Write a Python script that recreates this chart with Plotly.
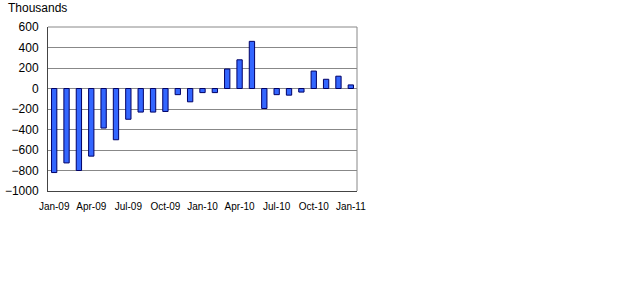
import plotly.graph_objects as go

months = ["Jan-09","Feb-09","Mar-09","Apr-09","May-09","Jun-09","Jul-09","Aug-09","Sep-09",
          "Oct-09","Nov-09","Dec-09","Jan-10","Feb-10","Mar-10","Apr-10","May-10","Jun-10",
          "Jul-10","Aug-10","Sep-10","Oct-10","Nov-10","Dec-10","Jan-11"]
values = [-820, -726, -800, -660, -386, -500, -300, -230, -230, -224, -60, -130,
          -40, -40, 190, 280, 460, -195, -60, -65, -35, 170, 90, 120, 35]
tick_labels = ["Jan-09","Apr-09","Jul-09","Oct-09","Jan-10","Apr-10","Jul-10","Oct-10","Jan-11"]
y_ticks = [600, 400, 200, 0, -200, -400, -600, -800, -1000]

fig = go.Figure(go.Bar(
    x=months, y=values,
    marker=dict(color="#3366FF", line=dict(color="#000066", width=1)),
))

W, H = 640, 308
L, T, R, B = 47.7, 27.3, 356.7, 191.3

fig.update_layout(
    width=W, height=H,
    margin=dict(l=L, r=W - R, t=T, b=H - B, pad=0, autoexpand=False),
    paper_bgcolor="white", plot_bgcolor="white",
    bargap=0.57,
    showlegend=False,
    font=dict(family="Liberation Sans, Arial, sans-serif", size=12, color="#000000"),
    xaxis=dict(
        type="category", tickmode="array", tickvals=tick_labels, ticktext=tick_labels,
        tickfont=dict(size=10), showgrid=False, showline=True, linecolor="#444444",
        linewidth=1, mirror=False, ticks="", ticklabelstandoff=6, automargin=False,
    ),
    yaxis=dict(
        range=[-1000, 600], tickmode="array", tickvals=y_ticks,
        showgrid=True, gridcolor="#888888", gridwidth=1,
        zeroline=True, zerolinecolor="#888888", zerolinewidth=1,
        showline=True, linecolor="#444444", linewidth=1, ticks="",
        ticklabelstandoff=6, tickfont=dict(size=12), automargin=False,
    ),
    shapes=[
        dict(type="line", xref="paper", yref="paper", x0=0, x1=1, y0=1, y1=1,
             line=dict(color="#888888", width=1)),
        dict(type="line", xref="paper", yref="paper", x0=1, x1=1, y0=0, y1=1,
             line=dict(color="#888888", width=1)),
    ],
    annotations=[dict(
        text="Thousands", xref="paper", yref="paper",
        x=(6 - L) / (R - L), y=(B - 8) / (B - T),
        xanchor="left", yanchor="middle", showarrow=False,
        font=dict(size=12, color="#000000"),
    )],
)

fig.write_html("out.html")
